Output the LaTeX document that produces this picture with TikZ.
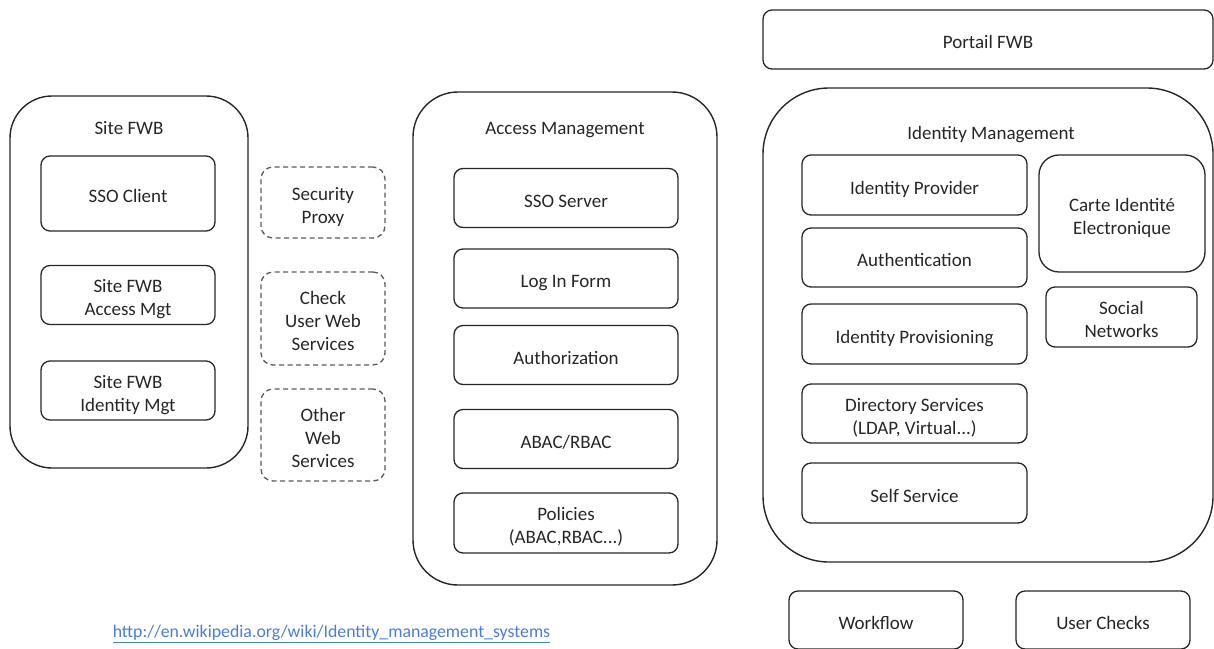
\documentclass[tikz,border=0pt]{standalone}
\usepackage{fontspec}
\setmainfont{Carlito}
\definecolor{ink}{RGB}{38,38,38}
\definecolor{dashgray}{RGB}{90,90,90}
\definecolor{linkblue}{RGB}{74,124,222}
% struts so that box texts sit a little below the middle
\newcommand{\tstrut}{\rule[-6pt]{0pt}{30.2pt}}
\newcommand{\topstrut}{\rule{0pt}{24.2pt}}
\newcommand{\botstrut}{\rule[-6pt]{0pt}{6pt}}
\begin{document}
\begin{tikzpicture}[x=1pt,y=-1pt,font=\fontsize{19}{23}\selectfont,text=ink]
      \useasboundingbox (0,0) rectangle (1214,648);
      \clip (0,0) rectangle (1214,648);
      % containers
      \begin{scope}[every node/.style={draw=ink,line width=1.4pt,inner sep=0pt}]
        \node[minimum width=238pt,minimum height=372pt,rounded corners=42pt] (site) at (129,282) {};
        \node[minimum width=304pt,minimum height=493pt,rounded corners=45pt] (access) at (565,338.5) {};
        \node[minimum width=450pt,minimum height=474pt,rounded corners=66pt] (ident) at (988,325) {};
      \end{scope}
      \begin{scope}[every node/.style={inner sep=0pt}]
        \node (sitetitle) at (129,128) {Site FWB};
        \node (accesstitle) at (565,130.5) {Access Management};
        \node (identtitle) at (991,135) {Identity Management};
      \end{scope}
      % boxes
      \begin{scope}[every node/.style={draw=ink,line width=1.3pt,rounded corners=9pt,align=center,inner sep=0pt,minimum height=59pt}]
        \node[minimum width=174pt,minimum height=75pt] (ssoclient) at (128,193.5) {\tstrut SSO Client};
        \node[minimum width=174pt] (siteaccess) at (128,295) {\topstrut Site FWB\\Access Mgt\botstrut};
        \node[minimum width=174pt] (siteident) at (128,390.5) {\topstrut Site FWB\\Identity Mgt\botstrut};
        \node[minimum width=224pt] (ssoserver) at (566,198) {\tstrut SSO Server};
        \node[minimum width=224pt] (login) at (566,278.5) {\tstrut Log In Form};
        \node[minimum width=224pt] (authz) at (566,355) {\tstrut Authorization};
        \node[minimum width=224pt] (abac) at (566,439) {\tstrut ABAC/RBAC};
        \node[minimum width=224pt,minimum height=60pt] (policies) at (566,523) {\topstrut Policies\\(ABAC,RBAC...)\botstrut};
        \node[minimum width=450pt] (portail) at (988,39.5) {\tstrut Portail FWB};
        \node[minimum width=225pt,minimum height=60pt] (idp) at (914.5,185) {\tstrut Identity Provider};
        \node[minimum width=225pt] (authn) at (914.5,257.5) {\tstrut Authentication};
        \node[minimum width=225pt,minimum height=60pt] (provisioning) at (914.5,334) {\tstrut Identity Provisioning};
        \node[minimum width=225pt] (directory) at (914.5,413.5) {\topstrut Directory Services\\(LDAP, Virtual...)\botstrut};
        \node[minimum width=225pt,minimum height=60pt] (selfservice) at (914.5,493) {\tstrut Self Service};
        \node[minimum width=166pt,minimum height=117pt,rounded corners=20pt] (carte) at (1122,213.5) {\topstrut Carte Identit\'e\\Electronique\botstrut};
        \node[minimum width=151pt,minimum height=60pt] (social) at (1121.5,317) {\topstrut Social\\Networks\botstrut};
        \node[minimum width=174pt,minimum height=58pt] (workflow) at (876,620) {\tstrut Workflow};
        \node[minimum width=174pt,minimum height=58pt] (userchecks) at (1103,620) {\tstrut User Checks};
      \end{scope}
      % optional web services
      \begin{scope}[every node/.style={draw=dashgray,line width=1.3pt,dashed,dash pattern=on 5pt off 3.5pt,rounded corners=12pt,align=center,inner sep=0pt,minimum width=124pt}]
        \node[minimum height=71pt] (proxy) at (323,202.5) {\topstrut Security\\Proxy\botstrut};
        \node[minimum height=93pt] (checkuser) at (323,318.5) {\topstrut Check\\User Web\\Services\botstrut};
        \node[minimum height=92pt] (otherweb) at (323,435) {\topstrut Other\\Web\\Services\botstrut};
      \end{scope}
      \node[text=linkblue,inner sep=0pt,font=\fontsize{17.8}{20}\selectfont] (wikilink) at (331.5,634)
        {\underline{http://en.wikipedia.org/wiki/Identity\_management\_systems}};
    \end{tikzpicture}
\end{document}
